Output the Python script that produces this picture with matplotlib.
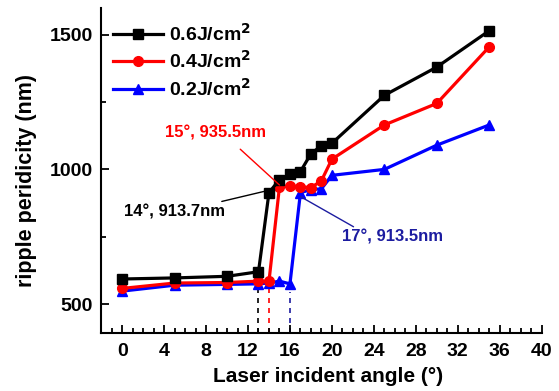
import numpy as np
import matplotlib.pyplot as plt
from matplotlib.ticker import MultipleLocator

plt.rcParams['font.family'] = ['Liberation Sans', 'DejaVu Sans']
plt.rcParams['font.weight'] = 'bold'

# %% data
x_06 = [0, 5, 10, 13, 14, 15, 16, 17, 18, 19, 20, 25, 30, 35]
y_06 = [593, 597, 603, 620, 913.7, 962, 982, 992, 1058, 1088, 1097, 1275, 1380, 1515]

x_04 = [0, 5, 10, 13, 14, 15, 16, 17, 18, 19, 20, 25, 30, 35]
y_04 = [558, 578, 580, 585, 585, 935.5, 938, 936, 932, 958, 1038, 1165, 1245, 1455]

x_02 = [0, 5, 10, 13, 14, 15, 16, 17, 18, 19, 20, 25, 30, 35]
y_02 = [548, 570, 573, 575, 578, 585, 575, 913.5, 925, 928, 978, 1000, 1090, 1165]

labels = ['0.6J/cm$^2$', '0.4J/cm$^2$', '0.2J/cm$^2$']
jump_x = [13, 14, 16]   # dashed markers where each curve jumps
navy = '#1c1ca0'

fig = plt.figure(figsize=(5.59, 3.91), dpi=100)
ax = fig.add_axes([0.181, 0.148, 0.788, 0.832])

ax.plot(x_06, y_06, color='black', lw=2.3, marker='s', ms=6.5, label=labels[0], zorder=3)
ax.plot(x_04, y_04, color='red', lw=2.3, marker='o', ms=7, label=labels[1], zorder=2)
ax.plot(x_02, y_02, color='blue', lw=2.3, marker='^', ms=7.5, label=labels[2], zorder=1)

ymin = 392
for xj, col, xs, ys in zip(jump_x, ['black', 'red', navy], [x_06, x_04, x_02], [y_06, y_04, y_02]):
    ax.plot([xj, xj], [ymin, ys[xs.index(xj)] - 30], color=col, lw=1.2, ls=(0, (3, 3)), zorder=0)

# annotations: text + leader line
ax.text(8.86, 1134, '15°, 935.5nm', color='red', fontsize=12, fontweight='bold', ha='center', va='center')
ax.annotate('', xy=(15.0, 942), xytext=(11.26, 1075),
            arrowprops=dict(arrowstyle='-', color='red', lw=1, shrinkA=0, shrinkB=0))
ax.text(5.0, 842, '14°, 913.7nm', color='black', fontsize=12, fontweight='bold', ha='center', va='center')
ax.annotate('', xy=(13.5, 918), xytext=(9.5, 881),
            arrowprops=dict(arrowstyle='-', color='black', lw=1, shrinkA=0, shrinkB=0))
ax.text(25.74, 750, '17°, 913.5nm', color=navy, fontsize=12, fontweight='bold', ha='center', va='center')
ax.annotate('', xy=(17.0, 899), xytext=(22.06, 787),
            arrowprops=dict(arrowstyle='-', color=navy, lw=1, shrinkA=0, shrinkB=0))

ax.set_xlim(-2, 40)
ax.set_ylim(ymin, 1600)
ax.xaxis.set_major_locator(MultipleLocator(4))
ax.xaxis.set_minor_locator(MultipleLocator(1))
ax.yaxis.set_major_locator(MultipleLocator(500))
ax.yaxis.set_minor_locator(MultipleLocator(250))
ax.tick_params(which='both', direction='in', width=1.3, labelsize=14)
ax.tick_params(which='major', length=6)
ax.tick_params(which='minor', length=3.5)
ax.tick_params(axis='x', pad=7)
ax.tick_params(axis='y', pad=6)
for lab in ax.get_xticklabels() + ax.get_yticklabels():
    lab.set_fontweight('bold')

for s in ['top', 'right']:
    ax.spines[s].set_visible(False)
for s in ['left', 'bottom']:
    ax.spines[s].set_linewidth(1.5)

ax.set_xlabel('Laser incident angle (°)', fontsize=15, fontweight='bold')
ax.set_ylabel('ripple peridicity (nm)', fontsize=15.5, fontweight='bold')
ax.xaxis.set_label_coords(0.514, -0.105)
ax.yaxis.set_label_coords(-0.145, 0.47)

ax.legend(loc='upper left', bbox_to_anchor=(0.0, 0.99), frameon=False,
          handlelength=2.6, handletextpad=0.3, labelspacing=0.28, borderaxespad=0.2,
          prop={'weight': 'bold', 'size': 14})

plt.savefig('out.png', dpi=100)
